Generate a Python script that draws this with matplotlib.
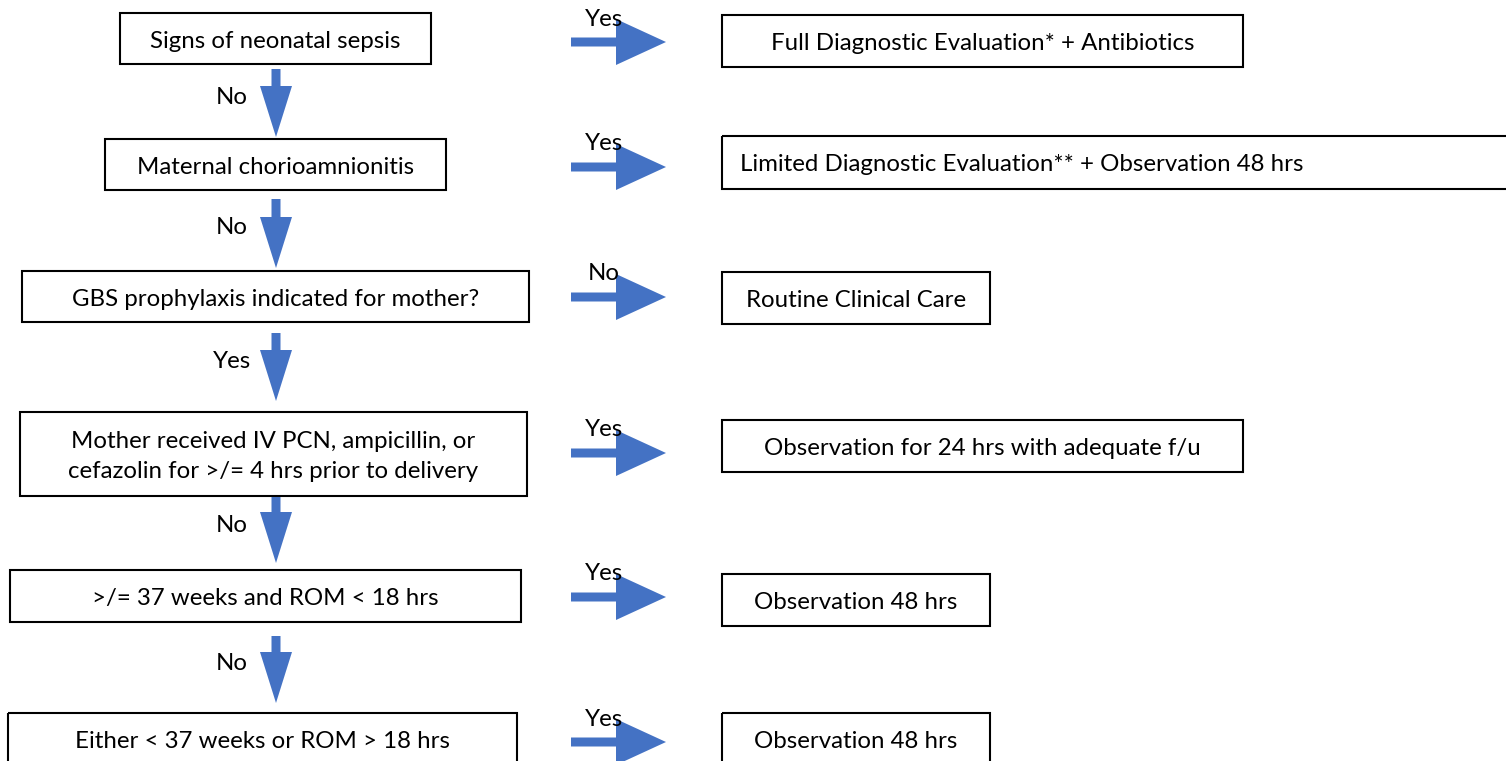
import matplotlib
matplotlib.use("Agg")
import matplotlib.pyplot as plt
from matplotlib.patches import Rectangle, FancyArrow

# decision steps (left column) and outcomes (right column)
questions = [
    "Signs of neonatal sepsis",
    "Maternal chorioamnionitis",
    "GBS prophylaxis indicated for mother?",
    "Mother received IV PCN, ampicillin, or\ncefazolin for >/= 4 hrs prior to delivery",
    ">/= 37 weeks and ROM < 18 hrs",
    "Either < 37 weeks or ROM > 18 hrs",
]
outcomes = [
    "Full Diagnostic Evaluation* + Antibiotics",
    "Limited Diagnostic Evaluation** + Observation 48 hrs",
    "Routine Clinical Care",
    "Observation for 24 hrs with adequate f/u",
    "Observation 48 hrs",
    "Observation 48 hrs",
]
right_labels = ["Yes", "Yes", "No", "Yes", "Yes", "Yes"]
down_labels = ["No", "No", "Yes", "No", "No"]

# layout in pixels (y measured from top)
q_boxes = [(120, 13, 311, 51), (105, 139, 341, 51), (22, 271, 507, 51),
           (20, 412, 507, 84), (10, 570, 511, 52), (8, 713, 509, 60)]
o_boxes = [(722, 15, 521, 52), (722, 136, 800, 53), (722, 272, 268, 52),
           (722, 420, 521, 52), (722, 574, 268, 52), (722, 713, 268, 60)]
row_y = [42, 167, 297, 453, 597, 742]
down_y = [(69, 137), (199, 268), (333, 401), (497, 563), (636, 703)]
o_text_x = [None, 740, None, None, None, None]

blue = "#4472C4"
plt.rcParams["font.family"] = ["Lato", "DejaVu Sans"]

fig = plt.figure(figsize=(15.06, 7.61), dpi=100)
ax = fig.add_axes([0, 0, 1, 1])
ax.set_xlim(0, 1506)
ax.set_ylim(761, 0)
ax.axis("off")

fs = 17.3
dy = 2.5  # nudge text down a bit to match the reference baseline
for (x, y, w, h), txt in zip(q_boxes, questions):
    ax.add_patch(Rectangle((x, y), w, h, fill=False, ec="black", lw=1.5, clip_on=False))
    cy = y + h / 2 if h > 80 else y + min(h, 52) / 2
    ax.text(x + w / 2, cy + dy, txt, ha="center", va="center", fontsize=fs,
            linespacing=1.5)

for i, ((x, y, w, h), txt) in enumerate(zip(o_boxes, outcomes)):
    ax.add_patch(Rectangle((x, y), w, h, fill=False, ec="black", lw=1.5, clip_on=False))
    cy = y + min(h, 52) / 2 + dy
    if o_text_x[i] is not None:
        ax.text(o_text_x[i], cy, txt, ha="left", va="center", fontsize=fs)
    else:
        ax.text(x + w / 2, cy, txt, ha="center", va="center", fontsize=fs)

# horizontal arrows to outcomes
for y, lab in zip(row_y, right_labels):
    ax.add_patch(FancyArrow(571, y, 95, 0, width=9, head_width=46, head_length=50,
                            length_includes_head=True, color=blue, lw=0))
    ax.text(604, y - 23, lab, ha="center", va="center", fontsize=fs)

# vertical arrows between questions
for (y0, y1), lab in zip(down_y, down_labels):
    ax.add_patch(FancyArrow(276, y0, 0, y1 - y0, width=9, head_width=32, head_length=51,
                            length_includes_head=True, color=blue, lw=0))
    ax.text(232, y0 + 28, lab, ha="center", va="center", fontsize=fs)

fig.savefig("out.png", dpi=100)
